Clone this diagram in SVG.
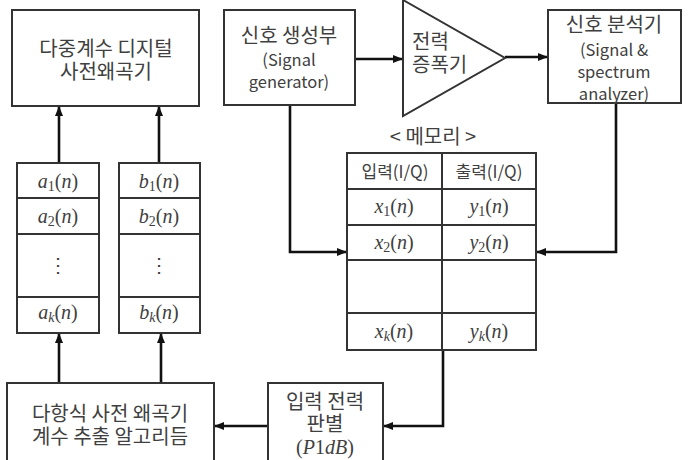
<svg xmlns="http://www.w3.org/2000/svg" width="689" height="460" viewBox="0 0 689 460">
<style>
.box{fill:#fff;stroke:#333;stroke-width:2}
.ln{fill:none;stroke:#111;stroke-width:2.6}
.thin{fill:none;stroke:#333;stroke-width:2}
text{font-family:"Noto Sans CJK KR","Noto Sans",sans-serif;fill:#404040;text-anchor:middle}
.k{font-size:20px}
.h{font-size:17px}
.e{font-size:16.5px}
.m{font-family:"Liberation Serif","DejaVu Serif",serif;font-size:20px}
.i{font-style:italic}
.s{font-size:14px}
</style>
<defs>
<marker id="ah" markerWidth="10" markerHeight="8" refX="9" refY="4" orient="auto" markerUnits="userSpaceOnUse">
<path d="M0,0 L10,4 L0,8 Z" fill="#111"/>
</marker>
</defs>
<rect width="689" height="460" fill="#fff"/>

<g id="connectors">
<line class="ln" x1="59" y1="163" x2="59" y2="107" marker-end="url(#ah)"/>
<line class="ln" x1="159" y1="163" x2="159" y2="107" marker-end="url(#ah)"/>
<line class="ln" x1="355" y1="59" x2="402" y2="59" marker-end="url(#ah)"/>
<line class="ln" x1="505" y1="57" x2="547" y2="57" marker-end="url(#ah)"/>
<polyline class="ln" points="290,105 290,252 346,252" marker-end="url(#ah)"/>
<polyline class="ln" points="616,103 616,252 537,252" marker-end="url(#ah)"/>
<polyline class="ln" points="443,350 443,426 384,426" marker-end="url(#ah)"/>
<line class="ln" x1="268" y1="426" x2="215" y2="426" marker-end="url(#ah)"/>
<line class="ln" x1="59" y1="383" x2="59" y2="334" marker-end="url(#ah)"/>
<line class="ln" x1="161" y1="383" x2="161" y2="334" marker-end="url(#ah)"/>
</g>

<g id="mdpd">
<rect class="box" x="12" y="10" width="187" height="96"/>
<text class="k"><tspan x="106" y="56">다중계수 디지털</tspan><tspan x="106" y="79">사전왜곡기</tspan></text>
</g>

<g id="coef-a">
<rect class="box" x="17" y="163" width="82" height="170"/>
<line class="thin" x1="17" y1="198" x2="99" y2="198"/>
<line class="thin" x1="17" y1="234" x2="99" y2="234"/>
<line class="thin" x1="17" y1="297" x2="99" y2="297"/>
<text class="m" x="58" y="188"><tspan class="i">a</tspan><tspan class="s" dy="3">1</tspan><tspan dy="-3">(</tspan><tspan class="i">n</tspan>)</text>
<text class="m" x="58" y="223"><tspan class="i">a</tspan><tspan class="s" dy="3">2</tspan><tspan dy="-3">(</tspan><tspan class="i">n</tspan>)</text>
<text class="m" x="58" y="272">⋮</text>
<text class="m" x="58" y="319"><tspan class="i">a</tspan><tspan class="s i" dy="3">k</tspan><tspan dy="-3">(</tspan><tspan class="i">n</tspan>)</text>
</g>

<g id="coef-b">
<rect class="box" x="119" y="163" width="81" height="170"/>
<line class="thin" x1="119" y1="198" x2="200" y2="198"/>
<line class="thin" x1="119" y1="234" x2="200" y2="234"/>
<line class="thin" x1="119" y1="297" x2="200" y2="297"/>
<text class="m" x="159" y="188"><tspan class="i">b</tspan><tspan class="s" dy="3">1</tspan><tspan dy="-3">(</tspan><tspan class="i">n</tspan>)</text>
<text class="m" x="159" y="223"><tspan class="i">b</tspan><tspan class="s" dy="3">2</tspan><tspan dy="-3">(</tspan><tspan class="i">n</tspan>)</text>
<text class="m" x="159" y="272">⋮</text>
<text class="m" x="159" y="319"><tspan class="i">b</tspan><tspan class="s i" dy="3">k</tspan><tspan dy="-3">(</tspan><tspan class="i">n</tspan>)</text>
</g>

<g id="generator">
<rect class="box" x="224" y="10" width="131" height="95"/>
<text><tspan class="k" x="289" y="43">신호 생성부</tspan><tspan class="e" x="289" y="66">(Signal</tspan><tspan class="e" x="289" y="88">generator)</tspan></text>
</g>

<g id="amplifier">
<polygon class="box" points="403,0 403,116 505,58"/>
<text class="k" style="text-anchor:start"><tspan x="412" y="49">전력</tspan><tspan x="412" y="72">증폭기</tspan></text>
</g>

<g id="analyzer">
<rect class="box" x="548" y="10" width="133" height="93"/>
<text><tspan class="k" x="614" y="32">신호 분석기</tspan><tspan class="e" x="614" y="56">(Signal &amp;</tspan><tspan class="e" x="614" y="78">spectrum</tspan><tspan class="e" x="614" y="100">analyzer)</tspan></text>
</g>

<g id="memory">
<text class="k" x="433" y="144">&lt; 메모리 &gt;</text>
<rect class="box" x="347" y="153" width="189" height="197"/>
<line class="thin" x1="442" y1="153" x2="442" y2="350"/>
<line class="thin" x1="347" y1="189" x2="536" y2="189"/>
<line class="thin" x1="347" y1="225" x2="536" y2="225"/>
<line class="thin" x1="347" y1="260" x2="536" y2="260"/>
<line class="thin" x1="347" y1="313" x2="536" y2="313"/>
<text class="h" x="395" y="178">입력(I/Q)</text>
<text class="h" x="489" y="178">출력(I/Q)</text>
<text class="m" x="394" y="213"><tspan class="i">x</tspan><tspan class="s" dy="3">1</tspan><tspan dy="-3">(</tspan><tspan class="i">n</tspan>)</text>
<text class="m" x="489" y="213"><tspan class="i">y</tspan><tspan class="s" dy="3">1</tspan><tspan dy="-3">(</tspan><tspan class="i">n</tspan>)</text>
<text class="m" x="394" y="249"><tspan class="i">x</tspan><tspan class="s" dy="3">2</tspan><tspan dy="-3">(</tspan><tspan class="i">n</tspan>)</text>
<text class="m" x="489" y="249"><tspan class="i">y</tspan><tspan class="s" dy="3">2</tspan><tspan dy="-3">(</tspan><tspan class="i">n</tspan>)</text>
<text class="m" x="394" y="338"><tspan class="i">x</tspan><tspan class="s i" dy="3">k</tspan><tspan dy="-3">(</tspan><tspan class="i">n</tspan>)</text>
<text class="m" x="489" y="338"><tspan class="i">y</tspan><tspan class="s i" dy="3">k</tspan><tspan dy="-3">(</tspan><tspan class="i">n</tspan>)</text>
</g>

<g id="power-detect">
<rect class="box" x="268" y="383" width="115" height="85"/>
<text><tspan class="k" x="325" y="409">입력 전력</tspan><tspan class="k" x="325" y="431">판별</tspan><tspan class="m" x="325" y="454">(<tspan class="i">P</tspan>1<tspan class="i">dB</tspan>)</tspan></text>
</g>

<g id="algorithm">
<rect class="box" x="7" y="383" width="207" height="85"/>
<text class="k"><tspan x="110" y="421">다항식 사전 왜곡기</tspan><tspan x="110" y="444">계수 추출 알고리듬</tspan></text>
</g>
</svg>
